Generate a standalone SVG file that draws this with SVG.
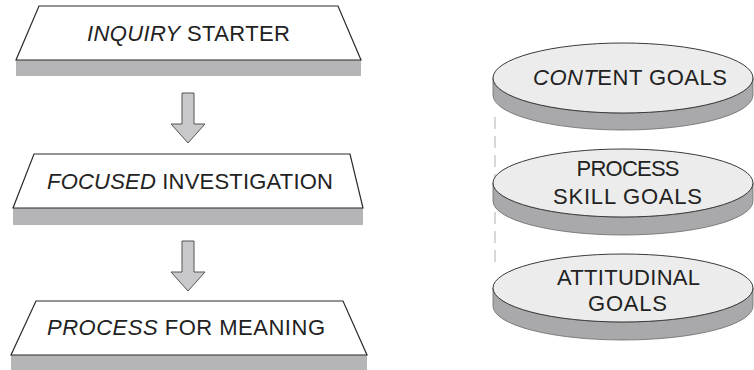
<svg xmlns="http://www.w3.org/2000/svg" width="754" height="370" viewBox="0 0 754 370">
<defs>
<style>
.face{fill:#ffffff;stroke:#2a2a2a;stroke-width:1.2}
.band{fill:#b5b5b8}
.arrow{fill:#c9c9cb;stroke:#555;stroke-width:1}
.eface{fill:#ececec;stroke:#3a3a3a;stroke-width:1}
.eside{fill:#a9a9ac;stroke:#6a6a6a;stroke-width:0.8}
.t{font-family:"Liberation Sans",Arial,sans-serif;font-size:22px;fill:#222;text-anchor:middle}
.i{font-style:italic}
.dash{stroke:#bdbdbd;stroke-width:1.2;stroke-dasharray:12 7;fill:none}
</style>
</defs>
<g id="connectors">
<polygon class="arrow" points="182,93 194,93 194,124 205,124 188,143 171,124 182,124"/>
<polygon class="arrow" points="182,241 194,241 194,272 205,272 188,291 171,272 182,272"/>
<line class="dash" x1="495" y1="117" x2="495" y2="266"/>
</g>
<g id="inquiry-starter">
<rect class="band" x="16" y="60" width="345" height="16"/>
<polygon class="face" points="39,6 338,6 361,60 16,60"/>
<text class="t" x="188.5" y="41" textLength="203" lengthAdjust="spacing"><tspan class="i">INQUIRY</tspan> STARTER</text>
</g>
<g id="focused-investigation">
<rect class="band" x="13" y="208" width="350" height="17"/>
<polygon class="face" points="34,154 350,154 363,208 13,208"/>
<text class="t" x="190" y="189" textLength="286" lengthAdjust="spacing"><tspan class="i">FOCUSED</tspan> INVESTIGATION</text>
</g>
<g id="process-for-meaning">
<rect class="band" x="11" y="355" width="356" height="15"/>
<polygon class="face" points="36,301 343,301 367,355 11,355"/>
<text class="t" x="186" y="335" textLength="278" lengthAdjust="spacing"><tspan class="i">PROCESS</tspan> FOR MEANING</text>
</g>
<g id="content-goals">
<path class="eside" d="M493,78 A130,35 0 0 0 753,78 L753,95 A130,35 0 0 1 493,95 Z"/>
<ellipse class="eface" cx="623" cy="78" rx="130" ry="35"/>
<text class="t" x="630" y="85" textLength="194" lengthAdjust="spacing"><tspan class="i">CONT</tspan>ENT GOALS</text>
</g>
<g id="process-skill-goals">
<path class="eside" d="M493,183 A130,34 0 0 0 753,183 L753,201 A130,34 0 0 1 493,201 Z"/>
<ellipse class="eface" cx="623" cy="183" rx="130" ry="34"/>
<text class="t" x="628" y="176" textLength="103" lengthAdjust="spacing">PROCESS</text>
<text class="t" x="627.5" y="204" textLength="149" lengthAdjust="spacing">SKILL GOALS</text>
</g>
<g id="attitudinal-goals">
<path class="eside" d="M493,288 A130,34 0 0 0 753,288 L753,306 A130,34 0 0 1 493,306 Z"/>
<ellipse class="eface" cx="623" cy="288" rx="130" ry="34"/>
<text class="t" x="628.5" y="285" textLength="143" lengthAdjust="spacing">ATTITUDINAL</text>
<text class="t" x="627.5" y="311" textLength="79" lengthAdjust="spacing">GOALS</text>
</g>
</svg>
